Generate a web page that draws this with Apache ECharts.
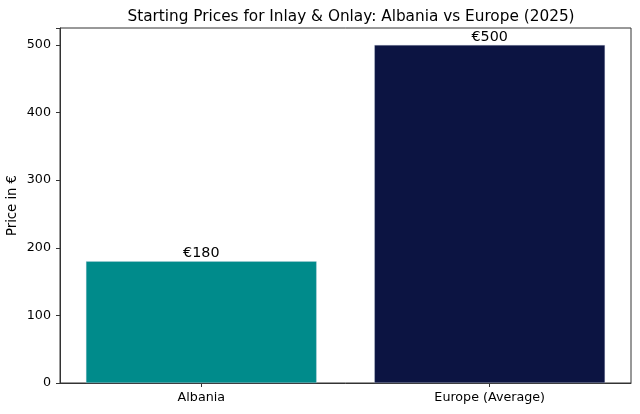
<!DOCTYPE html>
<html><head><meta charset="utf-8">
<script src="https://cdn.jsdelivr.net/npm/echarts@6/dist/echarts.min.js"></script>
<style>html,body{margin:0;padding:0;background:#fff}#c{width:640px;height:414px}</style>
</head><body><div id="c"></div>
<script>
const categories = ["Albania", "Europe (Average)"];
const prices = [180, 500];
const barColors = ["#008b8b", "#0c1442"];
const yTicks = [0, 100, 200, 300, 400, 500];

const chart = echarts.init(document.getElementById('c'), null, {renderer: 'canvas'});
const font = "DejaVu Sans";
chart.setOption({
  animation: false,
  backgroundColor: '#fff',
  title: {
    text: "Starting Prices for Inlay & Onlay: Albania vs Europe (2025)",
    left: 346, top: 5, textAlign: 'center',
    textStyle: {fontFamily: font, fontSize: 15.3, fontWeight: 'normal', color: '#000'}
  },
  grid: {left: 60, right: 9, top: 28, bottom: 31, containLabel: false, outerBoundsMode: 'none', show: true, borderColor: '#333', borderWidth: 1},
  xAxis: {
    type: 'value', min: -0.49, max: 1.49,
    splitLine: {show: false},
    axisLine: {onZero: false, lineStyle: {color: '#333', width: 1}},
    axisTick: {show: true, customValues: categories.map((c, i) => i), length: 4, lineStyle: {color: '#333'}},
    axisLabel: {customValues: categories.map((c, i) => i), fontFamily: font, fontSize: 12.7, color: '#000', margin: 8,
      formatter: v => categories[Math.round(v)] || ''}
  },
  yAxis: {
    type: 'value', min: 0, max: 525, interval: 100,
    name: 'Price in €', nameLocation: 'middle', nameGap: 41, nameMoveOverlap: false,
    nameTextStyle: {fontFamily: font, fontSize: 13.2, color: '#000'},
    splitLine: {show: false},
    axisLine: {show: true, onZero: false, lineStyle: {color: '#333', width: 1}},
    axisTick: {show: true, length: 4, lineStyle: {color: '#333'}},
    axisLabel: {fontFamily: font, fontSize: 12.7, color: '#000', margin: 9,
      formatter: v => yTicks.includes(v) ? String(v) : ''}
  },
  series: [{
    type: 'bar', barWidth: '80%',
    data: prices.map((v, i) => ({value: [i, v], itemStyle: {color: barColors[i], borderColor: 'rgba(200,210,230,0.6)', borderWidth: 0.5}})),
    label: {show: true, position: 'top', distance: 1, formatter: p => '€' + p.value[1],
      fontFamily: font, fontSize: 14.3, color: '#000'}
  }]
});
</script></body></html>
